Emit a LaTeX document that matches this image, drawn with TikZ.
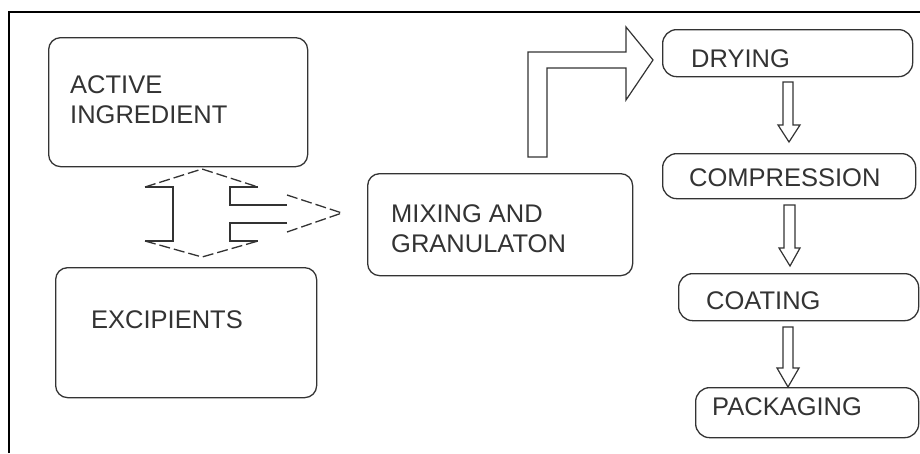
\documentclass[tikz,border=0pt]{standalone}
\usepackage{fontspec}
\setmainfont{Liberation Sans}
\definecolor{ink}{HTML}{333333}
\tikzset{
  box/.style={draw=ink, line width=1.3pt, rounded corners=12pt, anchor=north west, inner sep=0pt},
  pill/.style={box, rounded corners=14pt},
  txt/.style={anchor=base west, inner sep=0pt, text=ink, font=\fontsize{25.5}{30}\selectfont},
  arr/.style={draw=ink, fill=white, line width=1.2pt, line join=miter},
  arrline/.style={draw=ink, line width=1.2pt},
  dashhead/.style={draw=ink, line width=1.3pt, dash pattern=on 11pt off 4pt},
}
\begin{document}
\begin{tikzpicture}[x=1pt,y=-1pt]
\useasboundingbox (0,0) rectangle (920,453);
\fill[white] (0,0) rectangle (920,453);
% frame
\draw[black, line width=2.6pt] (9,453) -- (9,12) -- (920,12);

% boxes
\node[box, minimum width=259pt, minimum height=129pt] (ai) at (48,37) {};
\node[box, minimum width=261pt, minimum height=130pt] (ex) at (55,267) {};
\node[box, minimum width=265pt, minimum height=102pt] (mix) at (367,173) {};
\node[pill, minimum width=250pt, minimum height=47pt] (dry) at (662,29) {};
\node[pill, minimum width=253pt, minimum height=45pt] (comp) at (662,153) {};
\node[pill, minimum width=240pt, minimum height=47pt] (coat) at (678,273) {};
\node[pill, minimum width=223pt, minimum height=50pt] (pack) at (695,387) {};

% texts
\node[txt] (t1) at (70,93) {ACTIVE};
\node[txt] (t2) at (70,123) {INGREDIENT};
\node[txt] (t3) at (91,328) {EXCIPIENTS};
\node[txt] (t4) at (391,222) {MIXING AND};
\node[txt] (t5) at (391,252) {GRANULATON};
\node[txt] (t6) at (691,67) {DRYING};
\node[txt] (t7) at (689,186) {COMPRESSION};
\node[txt] (t8) at (706,309) {COATING};
\node[txt] (t9) at (712,415) {PACKAGING};

% double arrow between active ingredient and excipients, with branch to mixing
\draw[arrline] (145,187) -- (173,187) -- (173,241) -- (145,241);
\draw[arrline] (258,187) -- (230,187) -- (230,205) -- (287,205);
\draw[arrline] (287,223) -- (230,223) -- (230,241) -- (258,241);
\draw[dashhead] (145,187) -- (202,169) -- (258,187);
\draw[dashhead] (145,241) -- (202,257) -- (258,241);
\draw[dashhead] (287,195) -- (342,213) -- (287,232);

% bent arrow mixing -> drying
\draw[arr] (528,157) -- (528,52) -- (626,52) -- (626,27) -- (653,60) -- (626,100) -- (626,68) -- (547,68) -- (547,157) -- cycle;

% down arrows
\draw[arr] (783,82) -- (793,82) -- (793,125) -- (800,125) -- (789,142) -- (778,125) -- (783,125) -- cycle;
\draw[arr] (784,205) -- (795,205) -- (795,248) -- (800,248) -- (790,266) -- (779,248) -- (784,248) -- cycle;
\draw[arr] (783,327) -- (793,327) -- (793,368) -- (799,368) -- (788,387) -- (777,368) -- (783,368) -- cycle;
\end{tikzpicture}
\end{document}
